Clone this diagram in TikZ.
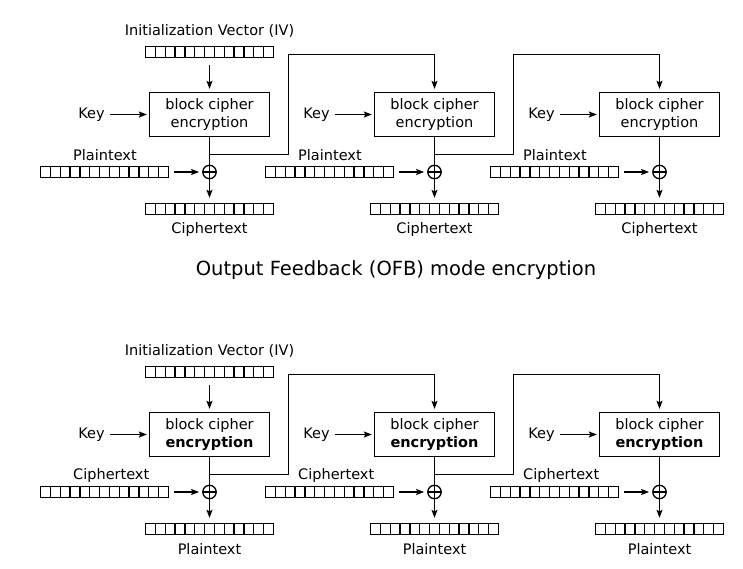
\documentclass[tikz,border=0pt]{standalone}
\usepackage{fontspec}
\setmainfont{DejaVu Sans}
\usetikzlibrary{arrows.meta}

\tikzset{
  register/.style={draw, line width=1.3pt, minimum width=128pt, minimum height=11pt, inner sep=0pt,
    path picture={\foreach \k in {1,...,12}
      \draw[line width=1.3pt] ([xshift=\k*9.846pt]path picture bounding box.south west)
        -- ([xshift=\k*9.846pt]path picture bounding box.north west);}},
  cipherbox/.style={draw, line width=1.3pt, minimum width=120pt, minimum height=44pt,
    align=center, inner sep=0pt, font=\fontsize{14.5}{18}\selectfont},
  xor/.style={draw, circle, line width=1.3pt, minimum size=13.4pt, inner sep=0pt,
    path picture={\draw[line width=1.3pt]
      (path picture bounding box.north) -- (path picture bounding box.south)
      (path picture bounding box.west) -- (path picture bounding box.east);}},
  txt/.style={inner sep=0pt, font=\fontsize{14.5}{18}\selectfont},
  flow/.style={line width=1.3pt, shorten >=3pt, -{Stealth[length=8pt,width=6pt,inset=1.5pt]}},
  wire/.style={line width=1.3pt}
}

\begin{document}
\begin{tikzpicture}[x=1pt,y=-1pt]
            \useasboundingbox (0,0) rectangle (743,569);

            \node[txt, font=\fontsize{19.5}{24}\selectfont] (title) at(396,270) {Output Feedback (OFB) mode encryption};

            \foreach \r/\inp/\outp/\enc in {0/Plaintext/Ciphertext/encryption, 320/Ciphertext/Plaintext/\textbf{encryption}} {
              \node[txt] (ivtext-\r) at(209.5,31+\r) {Initialization Vector (IV)};
              \node[register] (iv-\r) at(209.5,52+\r) {};
              \foreach \i in {0,1,2} {
                \pgfmathsetmacro\cx{209.5+225*\i}
                \node[cipherbox] (box-\r-\i) at(\cx,114.5+\r) {block cipher\\\enc};
                \node[txt] (key-\r-\i) at(\cx-118,114.5+\r) {Key};
                \node[xor] (xor-\r-\i) at(\cx,172+\r) {};
                \node[register] (in-\r-\i) at(\cx-105,172+\r) {};
                \node[txt, anchor=west] (intext-\r-\i) at(\cx-136.5,155+\r) {\inp};
                \node[register] (out-\r-\i) at(\cx,209+\r) {};
                \node[txt] (outtext-\r-\i) at(\cx,229+\r) {\outp};
                \coordinate (br-\r-\i) at(\cx,154.5+\r);
                \coordinate (top-\r-\i) at(\cx,54.5+\r);

                \draw[flow, shorten <=5pt, shorten >=2pt] (key-\r-\i.east) -- (box-\r-\i.west);
                \draw[wire] (box-\r-\i.south) -- (xor-\r-\i.north);
                \draw[flow, shorten <=5pt] (in-\r-\i.east) -- (xor-\r-\i.west);
                \draw[flow, shorten >=5pt] (xor-\r-\i.south) -- (out-\r-\i.north);
              }
              \draw[flow, shorten <=7pt] (iv-\r.south) -- (box-\r-0.north);
              \foreach \i/\j in {0/1,1/2} {
                \draw[flow] (br-\r-\i) -- ++(79,0) |- (top-\r-\j) -- (box-\r-\j.north);
              }
            }
        \end{tikzpicture}
\end{document}
